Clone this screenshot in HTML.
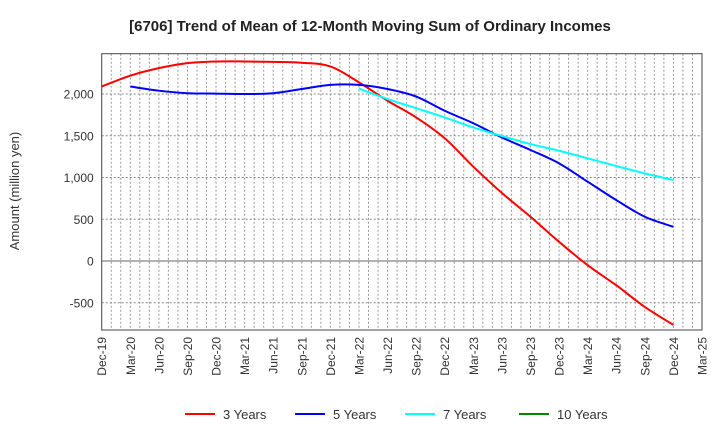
<!DOCTYPE html>
<html><head><meta charset="utf-8"><style>
body{margin:0;background:#fff;font-family:"Liberation Sans",sans-serif}
svg text{font-family:"Liberation Sans",sans-serif}
</style></head><body>
<svg width="720" height="440" id="c">
<rect width="720" height="440" fill="#fff"/>
<text x="370" y="31" text-anchor="middle" font-size="15" font-weight="bold" fill="#222">[6706]  Trend of Mean of 12-Month Moving Sum of Ordinary Incomes</text>
<text transform="translate(19,191) rotate(-90)" text-anchor="middle" font-size="13" fill="#333">Amount (million yen)</text>
<g id="grid"></g><g id="series"></g><g id="axes"></g>
<g>
<line x1="185" y1="414" x2="215" y2="414" stroke="#f00" stroke-width="2"/>
<text x="223" y="419" font-size="13" fill="#333">3 Years</text>
<line x1="295" y1="414" x2="325" y2="414" stroke="#00f" stroke-width="2"/>
<text x="333" y="419" font-size="13" fill="#333">5 Years</text>
<line x1="405" y1="414" x2="435" y2="414" stroke="#0ff" stroke-width="2"/>
<text x="443" y="419" font-size="13" fill="#333">7 Years</text>
<line x1="519" y1="414" x2="549" y2="414" stroke="#080" stroke-width="2"/>
<text x="557" y="419" font-size="13" fill="#333">10 Years</text>
</g>
</svg>
<script>
const xLabels=["Dec-19","Mar-20","Jun-20","Sep-20","Dec-20","Mar-21","Jun-21","Sep-21","Dec-21","Mar-22","Jun-22","Sep-22","Dec-22","Mar-23","Jun-23","Sep-23","Dec-23","Mar-24","Jun-24","Sep-24","Dec-24","Mar-25"];
const yTicks=[2000,1500,1000,500,0,-500];
const yTickLabels=["2,000","1,500","1,000","500","0","-500"];
// quarterly values, index = quarter from Dec-19
const s3=[2090,2220,2310,2370,2390,2390,2385,2375,2330,2140,1920,1720,1470,1130,815,530,230,-50,-290,-550,-765];
const s5=[null,2090,2040,2010,2005,2000,2010,2060,2110,2110,2060,1970,1800,1650,1480,1330,1170,950,730,530,410];
const s7=[null,null,null,null,null,null,null,null,null,2065,1940,1830,1720,1600,1497,1401,1321,1230,1138,1050,970];
const L=101.7,R=702,T=53.7,B=330,YMAX=2483,YMIN=-826,NM=63;
const X=m=>L+(R-L)*m/NM, Y=v=>T+(B-T)*(YMAX-v)/(YMAX-YMIN);
const NS="http://www.w3.org/2000/svg";
function mk(p,t,a){const e=document.createElementNS(NS,t);for(const k in a)e.setAttribute(k,a[k]);p.appendChild(e);return e;}
const g=document.getElementById('grid'),ax=document.getElementById('axes'),sg=document.getElementById('series');
for(let m=1;m<NM;m++){const l=mk(g,'line',{x1:X(m),x2:X(m),y1:T,y2:B,stroke:'#999','stroke-width':1,'stroke-dasharray':'2,2'});

}
yTicks.forEach((v,i)=>{const l=mk(g,'line',{x1:L,x2:R,y1:Y(v),y2:Y(v),stroke:v===0?'#666':'#888','stroke-width':1,'stroke-dasharray':v===0?'':'2,2'});


const t=mk(ax,'text',{x:L-8,y:Y(v)+4.5,'text-anchor':'end','font-size':12,fill:'#333'});t.textContent=yTickLabels[i];

});
xLabels.forEach((s,i)=>{const x=X(i*3);const t=mk(ax,'text',{transform:`translate(${x+4.5},337) rotate(-90)`,'text-anchor':'end','font-size':12,fill:'#333'});t.textContent=s;

});
const fr=mk(ax,'rect',{x:L,y:T,width:R-L,height:B-T,fill:'none',stroke:'#444','stroke-width':1});


function path(arr,col,name){const p=[];arr.forEach((v,i)=>{if(v!==null)p.push([X(i*3),Y(v)]);});
let d=`M${p[0][0]},${p[0][1]}`;for(let i=0;i<p.length-1;i++){const p0=p[i-1]||p[i],p1=p[i],p2=p[i+1],p3=p[i+2]||p2;
d+=`C${p1[0]+(p2[0]-p0[0])/6},${p1[1]+(p2[1]-p0[1])/6} ${p2[0]-(p3[0]-p1[0])/6},${p2[1]-(p3[1]-p1[1])/6} ${p2[0]},${p2[1]}`;}
const e=mk(sg,'path',{d:d,fill:'none',stroke:col,'stroke-width':2});

}
path(s3,'#f00','line-3-years');path(s5,'#00f','line-5-years');path(s7,'#0ff','line-7-years');
</script>
</body></html>
